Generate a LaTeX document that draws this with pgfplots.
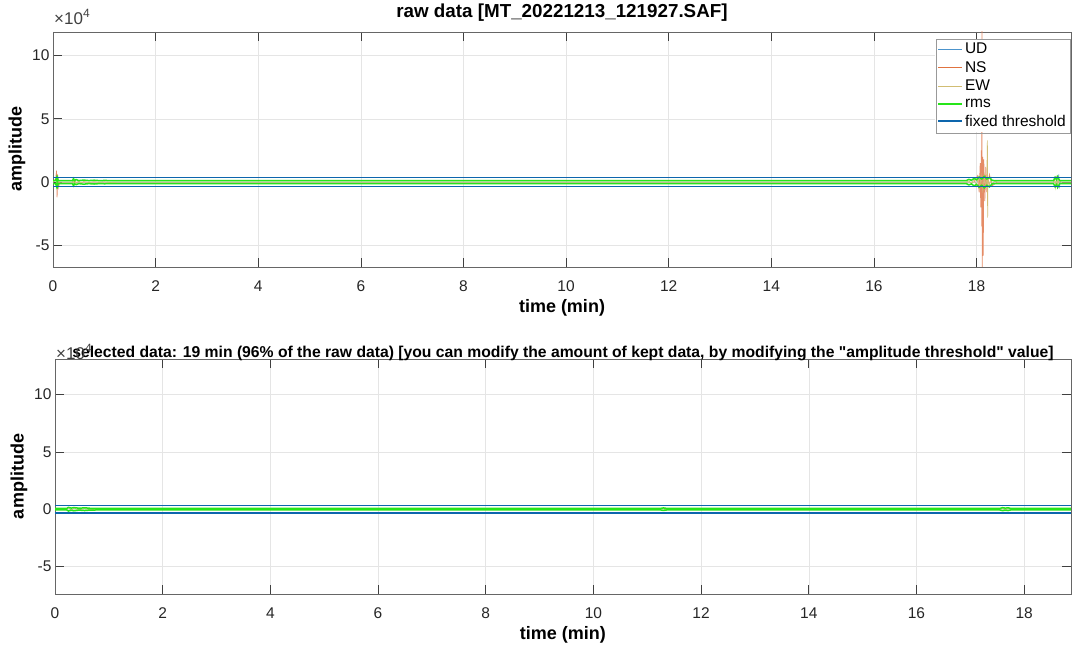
\documentclass[border=0pt]{standalone}
\usepackage{fontspec}
\setmainfont{Liberation Sans}[Ligatures=TeXOff]
\usepackage{pgfplots}
\pgfplotsset{compat=1.18}
\definecolor{mgreen}{rgb}{0.15,0.9,0.1}
\definecolor{thr}{rgb}{0.05,0.40,0.68}
\definecolor{cUD}{rgb}{0.50,0.68,0.82}
\definecolor{cNS}{rgb}{0.90,0.55,0.40}
\definecolor{cEW}{rgb}{0.82,0.74,0.45}
\definecolor{lUD}{rgb}{0.30,0.58,0.80}
\definecolor{lNS}{rgb}{0.88,0.45,0.25}
\pgfplotsset{mstyle/.style={
  scale only axis, axis line style={black!60, line width=0.6pt},
  grid=major, major grid style={black!10, line width=0.5pt},
  tick align=inside, major tick length=9pt, tick style={black!75, line width=0.6pt},
  xtick={0,2,...,18}, ytick={-5,0,5,10},
  ticklabel style={font=\fontsize{15.5}{18}\selectfont, text=black!85},
  xticklabel style={yshift=-10pt},
  /pgf/number format/assume math mode=true,
  xlabel style={font=\fontsize{18}{21}\selectfont\bfseries, yshift=-1pt},
  ylabel style={font=\fontsize{18}{21}\selectfont\bfseries},
  title style={anchor=base, at={(0.5,1)}},
  xlabel={time (min)}, ylabel={amplitude},
}}
\begin{document}
\begin{tikzpicture}
\path[use as bounding box] (0,0) rectangle (1073pt,648pt);
% ---------- top axis ----------
\begin{axis}[mstyle, name=ax1, at={(53pt,381pt)}, anchor=south west,
  width=1018pt, height=235pt, xmin=0, xmax=19.84, ymin=-6.7, ymax=11.85,
  title={raw data [MT\_20221213\_121927.SAF]},
  title style={font=\fontsize{18.8}{22}\selectfont\bfseries, yshift=8pt},
  legend style={at={(1,1)}, anchor=north east, xshift=-1pt, yshift=-7pt,
    font=\fontsize{15.5}{18}\selectfont, draw=none, fill=white,
    inner sep=2pt, row sep=2.3pt, legend cell align=left},
  legend image code/.code={\draw[#1] (0pt,0pt) -- (24pt,0pt);}]
\addplot[draw=cUD, line width=0.7pt, legend image post style={draw=lUD, line width=1.2pt}] coordinates {
 (0,0) (0.07,0.3) (0.08,-0.3) (0.09,0.2) (0.1,0) (18.0,0) (18.05,0.3) (18.08,-0.4)
 (18.1,0.6) (18.12,-0.5) (18.15,0.3) (18.2,0) (19.58,0) (19.6,0.6) (19.61,-0.5)
 (19.63,0) (19.9,0)};
\addlegendentry{UD}
\addplot[draw=cNS, line width=0.7pt, legend image post style={draw=lNS, line width=1.2pt}] coordinates {
 (0,0) (0.05,0.2) (0.07,0.9) (0.08,-1.2) (0.09,0.6) (0.11,-0.4) (0.13,0) (17.95,0)
 (18.02,0.5) (18.05,-0.8) (18.07,1.5) (18.08,-2.0) (18.09,2.5) (18.1,-3.5)
 (18.105,14) (18.11,-9) (18.12,2.0) (18.13,-5.8) (18.14,1.8) (18.16,-1.5)
 (18.18,1.2) (18.2,-0.8) (18.25,0.6) (18.3,-0.3) (18.4,0) (19.9,0)};
\addlegendentry{NS}
\addplot[draw=cEW, line width=0.7pt, legend image post style={draw=cEW, line width=1.2pt}] coordinates {
 (0,0) (0.06,0.3) (0.07,-0.4) (0.08,0.5) (0.09,-0.3) (0.1,0.2) (0.12,0)
 (0.38,0) (0.40,0.25) (0.41,-0.25) (0.43,0.15) (0.45,-0.1) (0.5,0.08) (0.55,-0.06)
 (0.6,0.05) (0.7,-0.04) (0.8,0.04) (0.9,-0.03) (1.0,0.03) (1.1,-0.03) (1.25,0)
 (17.8,0) (17.85,0.1) (17.9,-0.15) (17.95,0.25) (18.0,-0.3) (18.03,0.4) (18.06,-0.45)
 (18.09,0.5) (18.12,-0.6) (18.15,0.55) (18.18,-0.5) (18.2,0.45) (18.21,3.3)
 (18.215,-2.8) (18.22,0.4) (18.25,-0.3) (18.28,0.35) (18.3,-0.2) (18.35,0.1) (18.4,0)
 (19.5,0) (19.52,0.3) (19.54,-0.4) (19.56,0.5) (19.58,-0.3) (19.6,0.2) (19.65,0) (19.9,0)};
\addlegendentry{EW}
\addplot[draw=mgreen, line width=1.5pt, legend image post style={draw=mgreen, line width=1.8pt}] coordinates {
 (0,0.12) (0.05,0.12) (0.07,0.35) (0.08,0.14) (0.09,0.3) (0.1,0.12) (0.38,0.12)
 (0.4,0.28) (0.42,0.12) (0.45,0.2) (0.5,0.12) (0.6,0.16) (0.7,0.12) (0.8,0.15)
 (0.9,0.12) (1.0,0.13) (1.2,0.12) (17.8,0.12) (17.85,0.22) (17.9,0.14) (17.95,0.3)
 (18.0,0.18) (18.05,0.4) (18.1,0.25) (18.15,0.45) (18.2,0.25) (18.25,0.38) (18.3,0.14)
 (18.35,0.12) (19.5,0.12) (19.53,0.38) (19.56,0.18) (19.58,0.42) (19.62,0.12) (19.9,0.12)};
\addlegendentry{rms}
\addplot[draw=mgreen, line width=1.5pt, forget plot] coordinates {
 (0,-0.12) (0.05,-0.12) (0.07,-0.35) (0.08,-0.14) (0.09,-0.3) (0.1,-0.12) (0.38,-0.12)
 (0.4,-0.28) (0.42,-0.12) (0.45,-0.2) (0.5,-0.12) (0.6,-0.16) (0.7,-0.12) (0.8,-0.15)
 (0.9,-0.12) (1.0,-0.13) (1.2,-0.12) (17.8,-0.12) (17.85,-0.22) (17.9,-0.14) (17.95,-0.3)
 (18.0,-0.18) (18.05,-0.4) (18.1,-0.25) (18.15,-0.45) (18.2,-0.25) (18.25,-0.38) (18.3,-0.14)
 (18.35,-0.12) (19.5,-0.12) (19.53,-0.38) (19.56,-0.18) (19.58,-0.42) (19.62,-0.12) (19.9,-0.12)};
\addplot[draw=thr, line width=1.6pt, legend image post style={draw=thr, line width=1.8pt}] coordinates {(0,0.36) (19.9,0.36)};
\addlegendentry{fixed threshold}
\addplot[draw=thr, line width=1.6pt, forget plot] coordinates {(0,-0.36) (19.9,-0.36)};
\end{axis}
\draw[black!40, line width=0.5pt] ([xshift=-1pt,yshift=-7pt]ax1.north east) rectangle ([xshift=-135pt,yshift=-101pt]ax1.north east);
\node[anchor=base west, font=\fontsize{17}{19}\selectfont, text=black!75, inner sep=0pt]
  at (ax1.north west) [yshift=7pt, xshift=1pt] {×10\raisebox{0.45em}{\fontsize{12}{13}\selectfont 4}};
% ---------- bottom axis ----------
\begin{axis}[mstyle, name=ax2, at={(55pt,54pt)}, anchor=south west,
  width=1016pt, height=235pt, xmin=0, xmax=18.87, ymin=-7.4, ymax=13.1,
  title={selected data: 19 min (96\% of the raw data) [you can modify the amount of kept data, by modifying the "amplitude threshold" value]},
  title style={font=\fontsize{15.7}{19}\selectfont\bfseries, yshift=-5pt}]
\addplot[draw=cEW, line width=0.7pt] coordinates {
 (0,0) (0.22,0) (0.25,0.12) (0.3,-0.1) (0.35,0.08) (0.45,-0.06) (0.55,0.05)
 (0.65,-0.05) (0.78,0) (11.25,0) (11.3,0.08) (11.33,-0.06) (11.36,0) (17.55,0)
 (17.6,0.1) (17.65,-0.1) (17.7,0.06) (17.75,0) (19,0)};
\addplot[draw=mgreen, line width=1.5pt] coordinates {
 (0,0.07) (0.22,0.07) (0.25,0.16) (0.3,0.09) (0.35,0.14) (0.45,0.08) (0.55,0.12)
 (0.65,0.08) (0.78,0.07) (11.25,0.07) (11.3,0.11) (11.36,0.07) (17.55,0.07)
 (17.6,0.13) (17.65,0.09) (17.7,0.12) (17.75,0.07) (19,0.07)};
\addplot[draw=mgreen, line width=1.5pt] coordinates {
 (0,-0.07) (0.22,-0.07) (0.25,-0.16) (0.3,-0.09) (0.35,-0.14) (0.45,-0.08) (0.55,-0.12)
 (0.65,-0.08) (0.78,-0.07) (11.25,-0.07) (11.3,-0.11) (11.36,-0.07) (17.55,-0.07)
 (17.6,-0.13) (17.65,-0.09) (17.7,-0.12) (17.75,-0.07) (19,-0.07)};
\addplot[draw=thr, line width=1.6pt] coordinates {(0,0.33) (19,0.33)};
\addplot[draw=thr, line width=1.6pt] coordinates {(0,-0.33) (19,-0.33)};
\end{axis}
\node[anchor=base west, font=\fontsize{17}{19}\selectfont, text=black!75, inner sep=0pt]
  at (ax2.north west) [yshift=-1pt, xshift=1pt] {×10\raisebox{0.45em}{\fontsize{12}{13}\selectfont 4}};
\end{tikzpicture}
\end{document}
